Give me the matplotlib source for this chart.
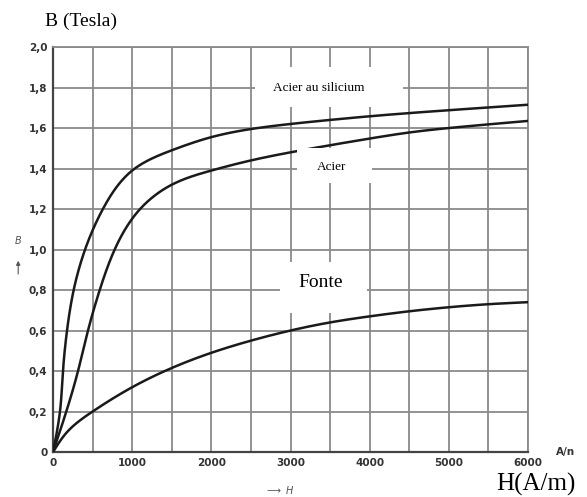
import matplotlib.pyplot as plt
import matplotlib.patches as mpatches
import numpy as np

# H (A/m) and B (T)
h_silicium = [0, 88, 126, 177, 261, 405, 630, 1000, 1500, 2000, 2500, 3000, 3500, 4000, 5000, 6000]
b_silicium = [0, 0.2, 0.4, 0.6, 0.8, 1.0, 1.2, 1.39, 1.49, 1.555, 1.595, 1.62, 1.64, 1.658, 1.688, 1.715]

h_acier = [0, 168, 316, 442, 590, 779, 1100, 1500, 2000, 2500, 3000, 3500, 4000, 4500, 5000, 5500, 6000]
b_acier = [0, 0.2, 0.4, 0.6, 0.8, 1.0, 1.2, 1.32, 1.39, 1.44, 1.48, 1.515, 1.548, 1.578, 1.60, 1.618, 1.635]

h_fonte = [0, 167, 500, 1000, 1500, 2000, 2500, 3000, 3500, 4000, 4500, 5000, 5500, 6000]
b_fonte = [0, 0.094, 0.20, 0.32, 0.415, 0.49, 0.55, 0.60, 0.64, 0.67, 0.695, 0.715, 0.73, 0.74]

x_ticks = [0, 1000, 2000, 3000, 4000, 5000, 6000]
y_ticks = [0, 0.2, 0.4, 0.6, 0.8, 1.0, 1.2, 1.4, 1.6, 1.8, 2.0]
y_labels = ['0', '0,2', '0,4', '0,6', '0,8', '1,0', '1,2', '1,4', '1,6', '1,8', '2,0']


def natural_spline(t, y, ts):
    n = len(t)
    h = np.diff(t)
    A = np.zeros((n, n))
    r = np.zeros(n)
    A[0, 0] = A[-1, -1] = 1
    for i in range(1, n - 1):
        A[i, i - 1] = h[i - 1]
        A[i, i] = 2 * (h[i - 1] + h[i])
        A[i, i + 1] = h[i]
        r[i] = 6 * ((y[i + 1] - y[i]) / h[i] - (y[i] - y[i - 1]) / h[i - 1])
    M = np.linalg.solve(A, r)
    k = np.clip(np.searchsorted(t, ts) - 1, 0, n - 2)
    a = t[k + 1] - ts
    b = ts - t[k]
    hk = h[k]
    return (M[k] * a**3 / (6 * hk) + M[k + 1] * b**3 / (6 * hk)
            + (y[k] / hk - M[k] * hk / 6) * a + (y[k + 1] / hk - M[k + 1] * hk / 6) * b)


def smooth(x, y):
    # parametric spline, chord length measured in screen-like units
    u = np.asarray(x, float) / 6000 * 475
    v = np.asarray(y, float) / 2.0 * 405
    t = np.concatenate([[0], np.cumsum(np.hypot(np.diff(u), np.diff(v)))])
    ts = np.linspace(0, t[-1], 1500)
    return natural_spline(t, u, ts) / 475 * 6000, natural_spline(t, v, ts) / 405 * 2.0


fig = plt.figure(figsize=(5.87, 4.97), dpi=100)
ax = fig.add_axes([0.0903, 0.0905, 0.8092, 0.8149])

ax.set_xlim(0, 6000)
ax.set_ylim(0, 2.0)
ax.set_xticks(np.arange(0, 6001, 500), minor=True)
ax.set_xticks(x_ticks)
ax.set_yticks(y_ticks)
ax.set_yticklabels(y_labels)
ax.grid(True, which='both', color='#8a8a8a', lw=1.3)
ax.tick_params(which='both', length=0, labelsize=7.5, labelcolor='#333333', pad=4)
for lab in ax.get_xticklabels() + ax.get_yticklabels():
    lab.set_fontweight('bold')
for s in ['top', 'right']:
    ax.spines[s].set_color('#8a8a8a')
    ax.spines[s].set_linewidth(1.3)
for s in ['left', 'bottom']:
    ax.spines[s].set_color('#444444')
    ax.spines[s].set_linewidth(1.6)
ax.set_axisbelow(True)

for hx, by in [(h_silicium, b_silicium), (h_acier, b_acier), (h_fonte, b_fonte)]:
    xs, ys = smooth(hx, by)
    ax.plot(xs, ys, color='#1a1a1a', lw=1.8, zorder=3)

# white label patches covering the grid
for x0, x1, y0, y1 in [(2550, 4420, 1.704, 1.901), (3080, 4030, 1.328, 1.501), (2870, 3965, 0.686, 0.938)]:
    ax.add_patch(mpatches.Rectangle((x0, y0), x1 - x0, y1 - y0, facecolor='white',
                                    edgecolor='none', zorder=4))

ax.text(3360, 1.80, 'Acier au silicium', fontsize=9.5, family='Liberation Serif',
        ha='center', va='center', zorder=5)
ax.text(3524, 1.407, 'Acier', fontsize=9.5, family='Liberation Serif',
        ha='center', va='center', zorder=5)
ax.text(3385, 0.835, 'Fonte', fontsize=14, family='Liberation Serif',
        ha='center', va='center', zorder=5)

fig.text(0.077, 0.958, 'B (Tesla)', fontsize=14, family='Liberation Serif', ha='left', va='center')
fig.text(0.845, 0.026, 'H(A/m)', fontsize=18, family='Liberation Serif', ha='left', va='center')
fig.text(0.947, 0.0905, 'A/n', fontsize=7.5, fontweight='bold', color='#333333', ha='left', va='center')
fig.text(0.477, 0.014, r'$\longrightarrow$ $\it{H}$', fontsize=7, color='#555555', ha='center', va='center')
fig.text(0.031, 0.517, r'$\it{B}$', fontsize=7, color='#555555', ha='center', va='center')
ax.annotate('', xy=(0.031, 0.481), xytext=(0.031, 0.443), xycoords='figure fraction',
            textcoords='figure fraction', annotation_clip=False,
            arrowprops=dict(arrowstyle='-|>', color='#555555', lw=0.8, mutation_scale=6))

fig.savefig('out.png', dpi=100)
